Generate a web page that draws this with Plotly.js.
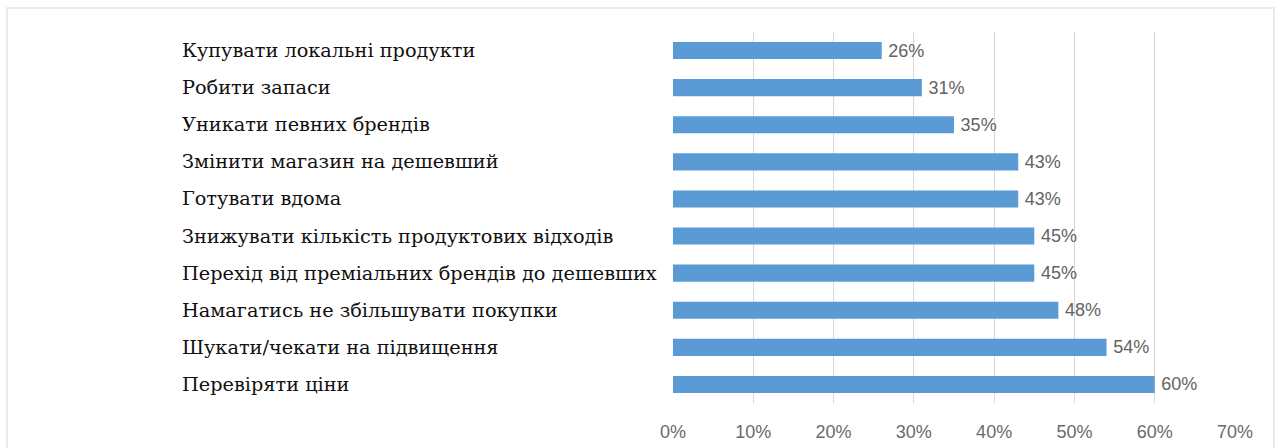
<!DOCTYPE html>
<html>
<head>
<meta charset="utf-8">
<script src="https://cdn.plot.ly/plotly-3.0.1.min.js"></script>
<style>
  html, body { margin: 0; padding: 0; background: #ffffff; }
  #chart { width: 1281px; height: 448px; }
</style>
</head>
<body>
<div id="chart"></div>
<script>
const categories = [
  "Купувати локальні продукти",
  "Робити запаси",
  "Уникати певних брендів",
  "Змінити магазин на дешевший",
  "Готувати вдома",
  "Знижувати кількість продуктових відходів",
  "Перехід від преміальних брендів до дешевших",
  "Намагатись не збільшувати покупки",
  "Шукати/чекати на підвищення",
  "Перевіряти ціни"
];
const values = [26, 31, 35, 43, 43, 45, 45, 48, 54, 60];
const xTickValues = [0, 10, 20, 30, 40, 50, 60, 70];
const xTickLabels = ["0%", "10%", "20%", "30%", "40%", "50%", "60%", "70%"];

const W = 1281, H = 448;
const mL = 673, mR = 46, mT = 32, mB = 45;
const plotW = W - mL - mR;
const plotH = H - mT - mB;
const labelX = (180 - mL) / plotW;

const trace = {
  type: "bar",
  orientation: "h",
  x: values,
  y: categories,
  marker: { color: "#5B9BD5" },
  text: values.map(v => "\u2009" + v + "%"),
  textposition: "outside",
  constraintext: "none",
  textangle: 0,
  textfont: { family: "Liberation Sans, Arial, sans-serif", size: 18, color: "#636363" },
  cliponaxis: false,
  hoverinfo: "none"
};

const annotations = categories.map(c => ({
  xref: "paper", yref: "y",
  x: labelX, y: c,
  xanchor: "left", yanchor: "middle",
  text: c, showarrow: false,
  font: { family: "DejaVu Serif, serif", size: 19.3, color: "#111111" }
}));

const layout = {
  width: W, height: H,
  margin: { l: mL, r: mR, t: mT, b: mB },
  paper_bgcolor: "#ffffff",
  plot_bgcolor: "#ffffff",
  showlegend: false,
  bargap: 0.54,
  xaxis: {
    range: [0, 70],
    tickvals: xTickValues,
    ticktext: xTickLabels,
    showgrid: true,
    gridcolor: "#d9d9d9",
    gridwidth: 1,
    zeroline: false,
    showline: false,
    ticks: "",
    ticklabelstandoff: 16,
    tickfont: { family: "Liberation Sans, Arial, sans-serif", size: 18, color: "#6a6a6a" },
    fixedrange: true
  },
  yaxis: {
    autorange: "reversed",
    showticklabels: false,
    showgrid: false,
    zeroline: false,
    showline: false,
    ticks: "",
    fixedrange: true
  },
  annotations: annotations,
  shapes: [{
    type: "rect", xref: "paper", yref: "paper",
    x0: (7 - mL) / plotW, x1: (1274 - mL) / plotW,
    y0: -(mB + 10) / plotH, y1: 1 + (mT - 8) / plotH,
    line: { color: "#e4e4e4", width: 1.5 },
    fillcolor: "rgba(0,0,0,0)",
    layer: "below"
  }]
};

Plotly.newPlot("chart", [trace], layout, { staticPlot: true, displayModeBar: false });
</script>
</body>
</html>
